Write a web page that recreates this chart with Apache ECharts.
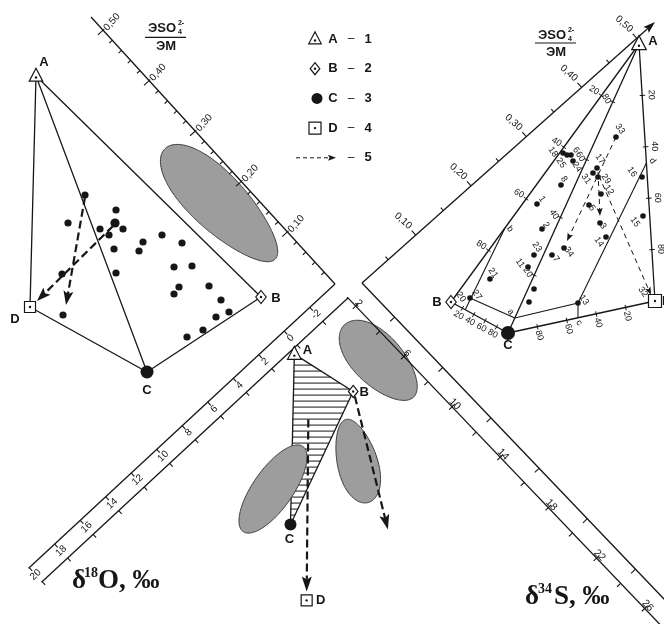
<!DOCTYPE html>
<html>
<head>
<meta charset="utf-8">
<script src="https://cdn.jsdelivr.net/npm/echarts@6.0.0/dist/echarts.min.js"></script>
<style>
  html, body { margin: 0; padding: 0; background: #fff; }
  #chart { width: 664px; height: 624px; }
</style>
</head>
<body>
<div id="chart"></div>
<script>
const SANS = '"Liberation Sans", Arial, sans-serif';
const SERIF = '"Liberation Serif", "Times New Roman", serif';
const INK = '#161616';

// ---------- data ----------
// ЭSO4/ЭМ axes
const soMajor = [0.1, 0.2, 0.3, 0.4, 0.5];
const soLabels = ['0,10', '0,20', '0,30', '0,40', '0,50'];
// δ18O, δ34S axes
const o18Ticks = [-2, 0, 2, 4, 6, 8, 10, 12, 14, 16, 18, 20];
const s34Labels = [2, 6, 10, 14, 18, 22, 26];
const s34Ticks = [4, 8, 12, 16, 20, 24];

// legend
const legendKinds = ['triangle', 'diamond', 'circle', 'square', 'arrow'];
const legendNames = ['A', 'B', 'C', 'D', ''];
const legendNums = ['1', '2', '3', '4', '5'];

// end members
const endNames = ['A', 'B', 'C', 'D'];
const endKinds = ['triangle', 'diamond', 'circle', 'square'];

// top-left diagram (page units)
const tlEndX = [36, 261, 147, 30];
const tlEndY = [76, 297, 372, 307];
const tlDotX = [85, 116, 68, 115, 100, 123, 109, 143, 162, 182, 114, 139, 174, 192, 116, 62, 179, 209, 174, 221, 63, 216, 229, 203, 187];
const tlDotY = [195, 210, 223, 223, 229, 229, 235, 242, 235, 243, 249, 251, 267, 266, 273, 274, 287, 286, 294, 300, 315, 317, 312, 330, 337];
const tlArrowFrom = [[85, 197], [113, 226]];
const tlArrowTo = [[66, 305], [37, 301]];

// top-right diagram (page units)
const trEndX = [639, 451, 508, 655];
const trEndY = [44, 302, 333, 301];
const trNo = ['33', '18', '25', '6', '24', '17', '31', '29', '12', '5', '3', '14', '34', '7', '23', '2', '1', '8', '16', '15', '21', '27', '11', '13', '', ''];
const trDotX = [616, 563, 567, 571, 573, 597, 593, 598, 601, 589, 600, 606, 564, 552, 534, 542, 537, 561, 642, 643, 490, 470, 528, 578, 534, 529];
const trDotY = [137, 153, 155, 155, 161, 168, 173, 177, 194, 205, 223, 237, 248, 255, 255, 229, 204, 185, 177, 216, 279, 298, 267, 303, 289, 302];
const trArrowFrom = [[616, 137], [598, 172], [599, 176]];
const trArrowTo = [[567, 241], [600, 216], [651, 295]];
const trScaleFrac = [0.2, 0.4, 0.6, 0.8];
const trScaleEdge = [['A', 'B'], ['A', 'C'], ['A', 'D'], ['B', 'C'], ['C', 'D']];
const trScaleText = [['20', '40', '60', '80'], ['80', '60', '40', '20'], ['20', '40', '60', '80'], ['20', '40', '60', '80'], ['80', '60', '40', '20']];
const trAuxNames = ['a', 'b', 'c', 'd', 'e'];
const trAuxEdge = [['A', 'C'], ['A', 'B'], ['C', 'D'], ['A', 'D'], ['B', 'C']];
const trAuxFrac = [0.948, 0.713, 0.476, 0.463, 0.25];

// bottom diagram (δ18O ‰, δ34S ‰)
const btEndO18 = [0.48, -0.48, 7.41, 9.75];
const btEndS34 = [1.60, 5.47, 8.62, 12.44];
const btArrowFrom = [[2.5, 4.9], [-0.35, 5.75]];
const btArrowTo = [[9.4, 12.07], [3.56, 12.63]];

// grey fields: centre, semi-axes, tilt (deg), egg factor
const fieldCX = [220, 379, 357, 273];
const fieldCY = [204, 361, 461, 489];
const fieldA = [78, 50, 43, 52];
const fieldB = [28, 25, 20, 20];
const fieldTilt = [45, 46.3, 75, 125];
const fieldEgg = [0.15, 0.1, -0.15, 0];

// ---------- layout of the rotated scales ----------
const axSoL = { o: [91, 17], u: [0.6746, 0.7382], n: [0.7382, -0.6746], len: 361.7, t: v => 359.4 - 683 * v };
const axSoR = { o: [362, 283], u: [0.7467, -0.6651], n: [-0.6651, -0.7467], len: 392.4, t: v => -2 + 740 * v };
const axO = { o: [335, 284], u: [-0.733, 0.680], n: [0.680, 0.733], len: 418, w: 19, t: v => 69.2 + 17.4 * v };
const axS = { o: [362, 283], u: [0.691, 0.723], n: [-0.723, 0.691], len: 460, w: 20.5, t: v => -22.56 + 17.43 * v };
const C0 = [347.5, 297.5];

const under = [], segs = [], arrows = [], marks = [], texts = [];
function seg(list, a, b, w, dash) { list.push({ a, b, w: w || 1.3, dash: dash || null }); }
function txt(p, t, o) { texts.push(Object.assign({ p, t, size: 10, bold: false, rot: 0, fam: SANS, align: 'center' }, o || {})); }
function mark(p, kind, size) { marks.push({ p, kind, size }); }
function arrow(a, b, o) { arrows.push(Object.assign({ a, b, w: 2.2, dash: [8, 4], len: 14, wid: 10 }, o || {})); }
function at(ax, t, off) { return [ax.o[0] + ax.u[0] * t + ax.n[0] * off, ax.o[1] + ax.u[1] * t + ax.n[1] * off]; }
function lerp(p, q, f) { return [p[0] + (q[0] - p[0]) * f, p[1] + (q[1] - p[1]) * f]; }
function add(p, d) { return [p[0] + d[0], p[1] + d[1]]; }
function dPt(o18, s34) {
  const a = axO.t(o18), b = axS.t(s34);
  return [C0[0] + a * axO.u[0] + b * axS.u[0], C0[1] + a * axO.u[1] + b * axS.u[1]];
}
function xAtY(p, q, y) { return p[0] + (q[0] - p[0]) * (y - p[1]) / (q[1] - p[1]); }

// ЭSO4/ЭМ axis, left
seg(segs, at(axSoL, 0, 0), at(axSoL, axSoL.len, 0));
for (let k = 1; k <= 25; k++) {
  const t = axSoL.t(k * 0.02), big = k % 5 === 0;
  seg(segs, at(axSoL, t, big ? 1.5 : 0), at(axSoL, t, big ? -7 : -4), 1.1);
}
soMajor.forEach((v, i) => txt(at(axSoL, axSoL.t(v), 12), soLabels[i], { rot: 0.84 }));

// ЭSO4/ЭМ axis, right (arrow)
arrow(at(axSoR, 0, 0), at(axSoR, axSoR.len, 0), { w: 1.3, dash: null, len: 12, wid: 8 });
for (let k = 1; k <= 10; k++) {
  const t = axSoR.t(k * 0.05);
  seg(segs, at(axSoR, t, 0), at(axSoR, t, k % 2 ? 4 : 6), 1.1);
}
soMajor.forEach((v, i) => txt(at(axSoR, axSoR.t(v), 19), soLabels[i], { rot: -0.73 }));

// δ18O band
[0, axO.w].forEach(off => seg(segs, at(axO, 0, off), at(axO, axO.len, off)));
o18Ticks.forEach(v => {
  const t = axO.t(v);
  seg(segs, at(axO, t, 0), at(axO, t, 4.5), 1.1);
  seg(segs, at(axO, t, axO.w), at(axO, t, axO.w + 4.5), 1.1);
  txt(at(axO, t, 9.5), String(v), { rot: 0.75 });
});

// δ34S band
[0, axS.w].forEach(off => seg(segs, at(axS, 0, off), at(axS, axS.len, off)));
s34Ticks.forEach(v => {
  const t = axS.t(v);
  seg(segs, at(axS, t, 0), at(axS, t, 6), 1.1);
  seg(segs, at(axS, t, axS.w), at(axS, t, axS.w + 5), 1.1);
});
s34Labels.forEach(v => {
  const t = axS.t(v);
  seg(segs, at(axS, t, axS.w - 4), at(axS, t, axS.w + 4), 1.1);
  txt(at(axS, t, 16.5), String(v), { rot: -0.8, size: 10.5 });
});

// fraction titles
[[162, 28], [552, 35]].forEach((p, i) => {
  txt(p, 'ЭSO', { size: 13, bold: true });
  txt(add(p, [19, -4.5]), '2-', { size: 7, bold: true });
  txt(add(p, [18, 4]), '4', { size: 7, bold: true });
  seg(segs, add(p, [-17, i ? 8 : 9.3]), add(p, [24, i ? 8 : 9.3]), 1.2);
  txt(add(p, [4, i ? 17 : 18]), 'ЭМ', { size: 13, bold: true });
});

// legend
legendKinds.forEach((k, i) => {
  const y = 39 + i * 29.7;
  if (k === 'arrow') arrow([296, y], [336, y], { w: 1, dash: [4, 3], len: 8, wid: 6 });
  else mark([k === 'circle' ? 317 : 315, y], k, k === 'circle' ? 5.5 : 12);
  if (legendNames[i]) txt([333, y], legendNames[i], { size: 13, bold: true });
  txt([351, y], '–', { size: 12 });
  txt([368, y], legendNums[i], { size: 13, bold: true });
});

// top-left diagram
const tl = endNames.map((_, i) => [tlEndX[i], tlEndY[i]]);
[[0, 3], [0, 2], [0, 1], [3, 2], [2, 1]].forEach(([i, j]) => seg(segs, tl[i], tl[j]));
tlDotX.forEach((x, i) => mark([x, tlDotY[i]], 'circle', i === 3 ? 4.6 : 3.6));
tlArrowFrom.forEach((a, i) => arrow(a, tlArrowTo[i]));
const tlSizes = [13, 13, 6.5, 11];
endKinds.forEach((k, i) => mark(tl[i], k, tlSizes[i]));
const tlLetterOff = [[8, -14], [15, 1], [0, 18], [-15, 12]];
endNames.forEach((n, i) => txt(add(tl[i], tlLetterOff[i]), n, { size: 13, bold: true }));

// top-right diagram
const tr = endNames.map((_, i) => [trEndX[i], trEndY[i]]);
const trOf = n => tr[endNames.indexOf(n)];
[['A', 'B'], ['A', 'C'], ['A', 'D'], ['B', 'C'], ['C', 'D']].forEach(([p, q]) => seg(segs, trOf(p), trOf(q)));
const aux = {};
trAuxNames.forEach((n, i) => { aux[n] = lerp(trOf(trAuxEdge[i][0]), trOf(trAuxEdge[i][1]), trAuxFrac[i]); });
const pt13 = [trDotX[trNo.indexOf('13')], trDotY[trNo.indexOf('13')]];
const pt27 = [trDotX[trNo.indexOf('27')], trDotY[trNo.indexOf('27')]];
seg(segs, aux.d, pt13, 1.1);
seg(segs, pt13, aux.c, 1.1);
seg(segs, pt27, aux.a, 1.1);
seg(segs, aux.a, pt13, 1.1);
seg(segs, aux.b, aux.e, 1.1);
const auxLabOff = [[-4, -6], [5, 1], [1, 5], [6, -2]];
['a', 'b', 'c', 'd'].forEach((n, i) => txt(add(aux[n], auxLabOff[i]), n, { size: 9, rot: -0.9 }));
const scaleSide = [1, 1, -1, 1, 1];
const scaleOff = [9, 7, 9, 8, 9];
const scaleRot = [-0.55, -1.0, -1.57, -0.5, -1.3];
trScaleEdge.forEach(([p, q], e) => {
  const P = trOf(p), Q = trOf(q);
  const L = Math.hypot(Q[0] - P[0], Q[1] - P[1]);
  const d = [(Q[0] - P[0]) / L, (Q[1] - P[1]) / L];
  const nn = [-d[1] * scaleSide[e], d[0] * scaleSide[e]];
  trScaleFrac.forEach((f, k) => {
    const b = lerp(P, Q, f);
    seg(segs, [b[0] - nn[0] * 2.5, b[1] - nn[1] * 2.5], [b[0] + nn[0] * 3, b[1] + nn[1] * 3], 1);
    txt([b[0] + nn[0] * scaleOff[e], b[1] + nn[1] * scaleOff[e]], trScaleText[e][k], { size: 9, rot: scaleRot[e] });
  });
});
const trLabDX = [4, -10, -6, 5, 4, 3, -7, 8, 8, 3, 3, -7, 5, 4, 3, 4, 5, 3, -10, -8, 3, 7, -8, 6, 0, 0];
const trLabDY = [-8, -1, 8, -5, 6, -9, 6, 2, -4, 3, 3, 5, 4, 4, -8, -4, -5, -6, -5, 6, -6, -3, -4, -3, 0, 0];
trDotX.forEach((x, i) => {
  mark([x, trDotY[i]], 'circle', 2.8);
  if (trNo[i]) txt([x + trLabDX[i], trDotY[i] + trLabDY[i]], trNo[i], { size: 9, rot: -0.95 });
});
txt([461, 297], '20', { size: 9, rot: -0.95 });
txt([643, 292], '32', { size: 9, rot: -0.95 });
trArrowFrom.forEach((a, i) => arrow(a, trArrowTo[i], { w: 1, dash: [5, 4], len: 8, wid: 6 }));
const trSizes = [14, 13, 7, 13];
endKinds.forEach((k, i) => mark(tr[i], k, trSizes[i]));
const trLetterOff = [[14, -3], [-14, 0], [0, 12], [7, 0]];
endNames.forEach((n, i) => txt(add(tr[i], trLetterOff[i]), n, { size: 13, bold: true, align: i === 3 ? 'left' : 'center' }));

// bottom diagram
const bt = endNames.map((_, i) => dPt(btEndO18[i], btEndS34[i]));
seg(under, bt[0], bt[1]); seg(under, bt[1], bt[2]); seg(under, bt[2], bt[0]);
for (let y = bt[0][1] + 5; y < bt[2][1] - 2; y += 6) {
  const xl = xAtY(bt[0], bt[2], y);
  const xr = y < bt[1][1] ? xAtY(bt[0], bt[1], y) : xAtY(bt[1], bt[2], y);
  seg(under, [xl, y], [xr, y], 1);
}
btArrowFrom.forEach((a, i) => arrow(dPt(a[0], a[1]), dPt(btArrowTo[i][0], btArrowTo[i][1]), { len: 15, wid: 10 }));
const btSizes = [13, 12, 6, 11];
endKinds.forEach((k, i) => mark(bt[i], k, btSizes[i]));
const btLetterOff = [[13, -4], [11, 1], [-1, 15], [14, 0]];
endNames.forEach((n, i) => txt(add(bt[i], btLetterOff[i]), n, { size: 13, bold: true }));

// axis titles
txt([72, 581], 'δ', { size: 27, bold: true, fam: SERIF, align: 'left' });
txt([84, 573], '18', { size: 14, bold: true, fam: SERIF, align: 'left' });
txt([98, 581], 'O, ‰', { size: 27, bold: true, fam: SERIF, align: 'left' });
txt([525, 597], 'δ', { size: 27, bold: true, fam: SERIF, align: 'left' });
txt([538, 589], '34', { size: 14, bold: true, fam: SERIF, align: 'left' });
txt([554, 597], 'S, ‰', { size: 27, bold: true, fam: SERIF, align: 'left' });

// ---------- renderers ----------
function segRender(list) {
  return function (params, api) {
    const s = list[params.dataIndex];
    const p = api.coord([api.value(0), api.value(1)]), q = api.coord([api.value(2), api.value(3)]);
    const style = { stroke: INK, lineWidth: s.w };
    if (s.dash) style.lineDash = s.dash;
    return { type: 'line', shape: { x1: p[0], y1: p[1], x2: q[0], y2: q[1] }, style };
  };
}

function arrowRender(params, api) {
  const s = arrows[params.dataIndex];
  const p = api.coord([api.value(0), api.value(1)]), q = api.coord([api.value(2), api.value(3)]);
  const dx = q[0] - p[0], dy = q[1] - p[1], L = Math.hypot(dx, dy), ux = dx / L, uy = dy / L;
  const bx = q[0] - ux * s.len, by = q[1] - uy * s.len;
  const style = { stroke: INK, lineWidth: s.w };
  if (s.dash) style.lineDash = s.dash;
  return {
    type: 'group',
    children: [
      { type: 'line', shape: { x1: p[0], y1: p[1], x2: bx + ux * 3, y2: by + uy * 3 }, style },
      {
        type: 'polygon',
        shape: { points: [[q[0], q[1]], [bx - uy * s.wid / 2, by + ux * s.wid / 2], [bx + ux * s.len * 0.2, by + uy * s.len * 0.2], [bx + uy * s.wid / 2, by - ux * s.wid / 2]] },
        style: { fill: INK }
      }
    ]
  };
}

function markRender(params, api) {
  const m = marks[params.dataIndex];
  const c = api.coord([api.value(0), api.value(1)]), s = m.size;
  const ol = { fill: '#fff', stroke: INK, lineWidth: 1.2 };
  const dot = (y) => ({ type: 'circle', shape: { cx: c[0], cy: y, r: 1.2 }, style: { fill: INK } });
  if (m.kind === 'circle') return { type: 'circle', shape: { cx: c[0], cy: c[1], r: s }, style: { fill: INK } };
  if (m.kind === 'triangle') {
    return { type: 'group', children: [
      { type: 'polygon', shape: { points: [[c[0], c[1] - s * 0.6], [c[0] + s * 0.52, c[1] + s * 0.4], [c[0] - s * 0.52, c[1] + s * 0.4]] }, style: ol },
      dot(c[1] + s * 0.12)
    ] };
  }
  if (m.kind === 'diamond') {
    return { type: 'group', children: [
      { type: 'polygon', shape: { points: [[c[0], c[1] - s / 2], [c[0] + s * 0.4, c[1]], [c[0], c[1] + s / 2], [c[0] - s * 0.4, c[1]]] }, style: ol },
      dot(c[1])
    ] };
  }
  return { type: 'group', children: [
    { type: 'rect', shape: { x: c[0] - s / 2, y: c[1] - s / 2, width: s, height: s }, style: ol },
    dot(c[1])
  ] };
}

function textRender(params, api) {
  const t = texts[params.dataIndex];
  const c = api.coord([api.value(0), api.value(1)]);
  return {
    type: 'text', x: c[0], y: c[1], rotation: t.rot,
    style: {
      text: t.t, x: 0, y: 0, fill: INK, fontSize: t.size, fontWeight: t.bold ? 'bold' : 'normal',
      fontFamily: t.fam, align: t.align, verticalAlign: 'middle'
    }
  };
}

function fieldRender(params, api) {
  const i = params.dataIndex, cx = api.value(0), cy = api.value(1);
  const a = fieldA[i], b = fieldB[i], th = fieldTilt[i] * Math.PI / 180;
  const pts = [];
  for (let k = 0; k < 90; k++) {
    const g = k / 90 * 2 * Math.PI;
    const bb = b * (1 - fieldEgg[i] * Math.cos(g));
    const x = cx + a * Math.cos(g) * Math.cos(th) - bb * Math.sin(g) * Math.sin(th);
    const y = cy + a * Math.cos(g) * Math.sin(th) + bb * Math.sin(g) * Math.cos(th);
    pts.push(api.coord([x, y]));
  }
  return { type: 'polygon', shape: { points: pts, smooth: 0.2 }, style: { fill: '#9d9d9d', stroke: '#3a3a3a', lineWidth: 1 } };
}

function custom(data, renderItem, z) {
  return { type: 'custom', coordinateSystem: 'cartesian2d', data, renderItem, z, clip: false, silent: true, animation: false };
}

const chart = echarts.init(document.getElementById('chart'));
chart.setOption({
  backgroundColor: '#fff',
  animation: false,
  grid: { left: 0, right: 0, top: 0, bottom: 0 },
  xAxis: { type: 'value', min: 0, max: 664, show: false },
  yAxis: { type: 'value', min: 0, max: 624, inverse: true, show: false },
  series: [
    custom(under.map(s => [s.a[0], s.a[1], s.b[0], s.b[1]]), segRender(under), 1),
    custom(fieldCX.map((x, i) => [x, fieldCY[i]]), fieldRender, 2),
    custom(segs.map(s => [s.a[0], s.a[1], s.b[0], s.b[1]]), segRender(segs), 3),
    custom(arrows.map(s => [s.a[0], s.a[1], s.b[0], s.b[1]]), arrowRender, 4),
    custom(marks.map(m => m.p), markRender, 5),
    custom(texts.map(t => t.p), textRender, 6)
  ]
});
window.addEventListener('resize', () => chart.resize());
</script>
</body>
</html>
